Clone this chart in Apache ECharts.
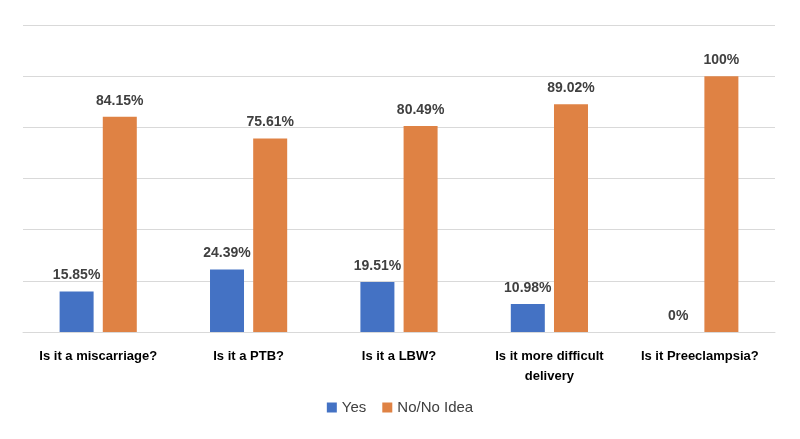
<!DOCTYPE html>
<html lang="en">
<head>
    <meta charset="UTF-8">
    <title>Chart</title>
    <script src="https://cdn.jsdelivr.net/npm/echarts@6/dist/echarts.min.js"></script>
    <style>
        html, body { margin: 0; padding: 0; background: #fff; }
    </style>
</head>
<body>
<div id="main" style="width: 800px;height:439px;"></div>
<script type="text/javascript">
    // data
    var categories = ['Is it a miscarriage?', 'Is it a PTB?', 'Is it a LBW?', 'Is it more difficult\ndelivery', 'Is it Preeclampsia?'];
    var yesValues = [15.85, 24.39, 19.51, 10.98, 0];
    var noValues = [84.15, 75.61, 80.49, 89.02, 100];
    var seriesNames = ['Yes', 'No/No Idea'];

    var myChart = echarts.init(document.getElementById('main'));

    var labelStyle = {
        show: true,
        position: 'top',
        distance: 9,
        fontFamily: 'Liberation Sans',
        fontWeight: 'bold',
        fontSize: 14,
        color: '#404040',
        formatter: function (p) { return p.value + '%'; }
    };

    var option = {
        animation: false,
        textStyle: { fontFamily: 'Liberation Sans' },
        grid: { left: 23, right: 25, top: 25, bottom: 107 },
        legend: {
            data: seriesNames,
            bottom: 19,
            left: 'center',
            itemWidth: 10,
            itemHeight: 10,
            itemGap: 16,
            icon: 'rect',
            textStyle: { fontSize: 15, color: '#404040' }
        },
        xAxis: {
            type: 'category',
            data: categories,
            axisTick: { show: false },
            axisLine: { lineStyle: { color: '#d9d9d9' } },
            axisLabel: {
                interval: 0,
                color: '#000',
                fontWeight: 'bold',
                fontSize: 13,
                margin: 14,
                lineHeight: 20
            }
        },
        yAxis: {
            type: 'value',
            min: 0,
            max: 120,
            interval: 20,
            axisLabel: { show: false },
            axisLine: { show: false },
            axisTick: { show: false },
            splitLine: { lineStyle: { color: '#d9d9d9' } }
        },
        series: [
            {
                name: seriesNames[0],
                type: 'bar',
                data: yesValues,
                barWidth: 34,
                barGap: '27%',
                itemStyle: { color: '#4472C4' },
                label: labelStyle
            },
            {
                name: seriesNames[1],
                type: 'bar',
                data: noValues,
                barWidth: 34,
                barGap: '27%',
                itemStyle: { color: '#DF8244' },
                label: labelStyle
            }
        ]
    };

    myChart.setOption(option);
</script>
</body>
</html>
